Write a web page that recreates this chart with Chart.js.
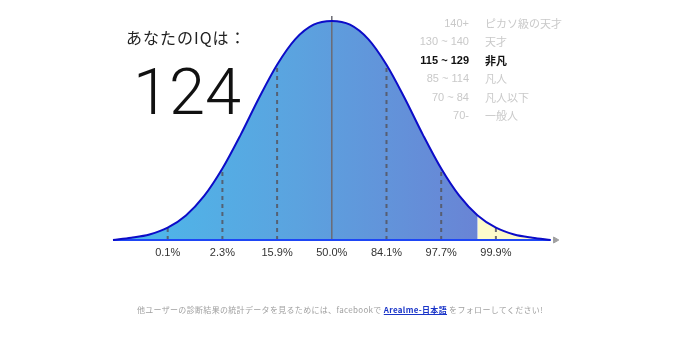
<!DOCTYPE html>
<html><head><meta charset="utf-8">
<script src="https://cdn.jsdelivr.net/npm/chart.js@4/dist/chart.umd.min.js"></script>
<style>
html,body{margin:0;padding:0;background:#fff;}
#wrap{position:relative;width:680px;height:356px;overflow:hidden;background:#fff;}
canvas{position:absolute;left:0;top:0;}
.t{position:absolute;white-space:nowrap;}
#title{left:126px;top:27px;font:16px "Noto Sans CJK JP";letter-spacing:1px;color:#222;line-height:20px;}
#score{left:133px;top:59px;font:300 65px Roboto;color:#111;line-height:66px;}
#legend{left:400px;top:14px;font:11px "Liberation Sans","Noto Sans CJK JP";color:#c9c9c9;}
#legend .row{position:relative;height:18.4px;line-height:18.4px;width:220px;}
#legend .rng{position:absolute;right:151px;text-align:right;}
#legend .lab{position:absolute;left:85px;font-family:"Noto Sans CJK JP";}
#legend .on{color:#111;font-weight:bold;}
#footer{left:0;width:680px;top:304px;text-align:center;font:8px "Noto Sans CJK JP";letter-spacing:0.32px;color:#a0a0a0;line-height:12px;}
#footer a{color:#1a35c8;font-weight:bold;text-decoration:underline;}
</style></head><body>
<div id="wrap">
<canvas id="c" width="680" height="356"></canvas>
<div class="t" id="title">あなたのIQは：</div>
<div class="t" id="score"></div>
<div class="t" id="legend"></div>
<div class="t" id="footer">他ユーザーの診断結果の統計データを見るためには、facebookで <a>Arealme-日本語</a> をフォローしてください!</div>
</div>
<script>
// ---- data ----
const userIQ = 124;
const fillLimitIQ = 140;
const curveIQ = [40,45,50,55,60,65,70,75,80,85,90,95,100,105,110,115,120,125,130,135,140,145,150,155,160];
const curveHeight = [0,0.010,0.025,0.056,0.112,0.201,0.326,0.480,0.647,0.800,0.917,0.983,1.000,0.983,0.917,0.800,0.647,0.480,0.326,0.201,0.112,0.056,0.025,0.010,0];
const tickIQ = [55,70,85,100,115,130,145];
const tickLabels = ['0.1%','2.3%','15.9%','50.0%','84.1%','97.7%','99.9%'];
const markerIQ = [55,70,85,115,130,145];
const medianIQ = 100;
const medianTop = 1.023;
const axisEndIQ = 160;
const arrowIQ = 161.3;
const legendRanges = ['140+','130 ~ 140','115 ~ 129','85 ~ 114','70 ~ 84','70-'];
const legendLabels = ['ピカソ級の天才','天才','非凡','凡人','凡人以下','一般人'];
const activeGroup = 2;

// ---- text ----
document.getElementById('score').textContent = String(userIQ);
const lg = document.getElementById('legend');
legendRanges.forEach((r,i)=>{
  const row = document.createElement('div');
  row.className = 'row' + (i===activeGroup?' on':'');
  row.innerHTML = '<span class="rng"></span><span class="lab"></span>';
  row.children[0].textContent = r;
  row.children[1].textContent = legendLabels[i];
  lg.appendChild(row);
});

// ---- chart ----
const pts = curveIQ.map((x,i)=>({x, y:curveHeight[i]}));
const heightAt = iq => curveHeight[curveIQ.indexOf(iq)];
const bluePts = pts.filter(p=>p.x<=fillLimitIQ);
const yellowPts = pts.filter(p=>p.x>=fillLimitIQ);

function blueGradient(ctx){
  const chart = ctx.chart;
  if(!chart.chartArea) return '#5aa5e0';
  const xs = chart.scales.x;
  const g = chart.ctx.createLinearGradient(xs.getPixelForValue(curveIQ[0]),0,xs.getPixelForValue(fillLimitIQ),0);
  g.addColorStop(0,'#4bbaeb');
  g.addColorStop(0.5,'#5ba3df');
  g.addColorStop(1,'#6984d5');
  return g;
}

const datasets = [];
datasets.push({data:pts, borderColor:'#0c0cc8', borderWidth:2, fill:false, pointRadius:0, cubicInterpolationMode:'monotone', order:0, clip:false});
datasets.push({data:[{x:curveIQ[0],y:0},{x:axisEndIQ,y:0}], borderColor:'#1e46f5', borderWidth:2, pointRadius:0, fill:false, order:1, clip:false});
datasets.push({data:[{x:arrowIQ,y:0}], showLine:false, pointStyle:'triangle', rotation:90, pointRadius:3.5, backgroundColor:'#a0a0a0', borderColor:'#a0a0a0', borderWidth:1, order:1, clip:false});
markerIQ.forEach(iq=>{
  datasets.push({data:[{x:iq,y:0},{x:iq,y:heightAt(iq)}], borderColor:'rgba(85,85,95,0.85)', borderWidth:2, borderDash:[4,4], pointRadius:0, fill:false, order:2, clip:false});
});
datasets.push({data:[{x:medianIQ,y:0},{x:medianIQ,y:medianTop}], borderColor:'#6b6b73', borderWidth:1.5, pointRadius:0, fill:false, order:2, clip:false});
datasets.push({data:bluePts, borderWidth:0, borderColor:'rgba(0,0,0,0)', backgroundColor:blueGradient, fill:'origin', pointRadius:0, cubicInterpolationMode:'monotone', order:5, clip:false});
datasets.push({data:yellowPts, borderWidth:0, borderColor:'rgba(0,0,0,0)', backgroundColor:'#fdfbcb', fill:'origin', pointRadius:0, cubicInterpolationMode:'monotone', order:5, clip:false});

new Chart(document.getElementById('c'), {
  type:'line',
  data:{datasets},
  options:{
    responsive:false, animation:false, devicePixelRatio:1,
    layout:{padding:{left:113,right:113,top:10,bottom:96}},
    plugins:{legend:{display:false}, tooltip:{enabled:false}},
    scales:{
      x:{type:'linear', min:40, max:164.5,
         grid:{display:false, drawTicks:false}, border:{display:false},
         afterBuildTicks:s=>{ s.ticks = tickIQ.map(v=>({value:v})); },
         afterFit:s=>{ s.height = 20; },
         ticks:{autoSkip:false, maxRotation:0, padding:6, color:'#333',
                font:{family:'"Liberation Sans Narrow","Liberation Sans"', size:11},
                callback:v=>tickLabels[tickIQ.indexOf(v)] }},
      y:{display:false, min:0, max:1.05}
    }
  }
});
</script>
</body></html>
